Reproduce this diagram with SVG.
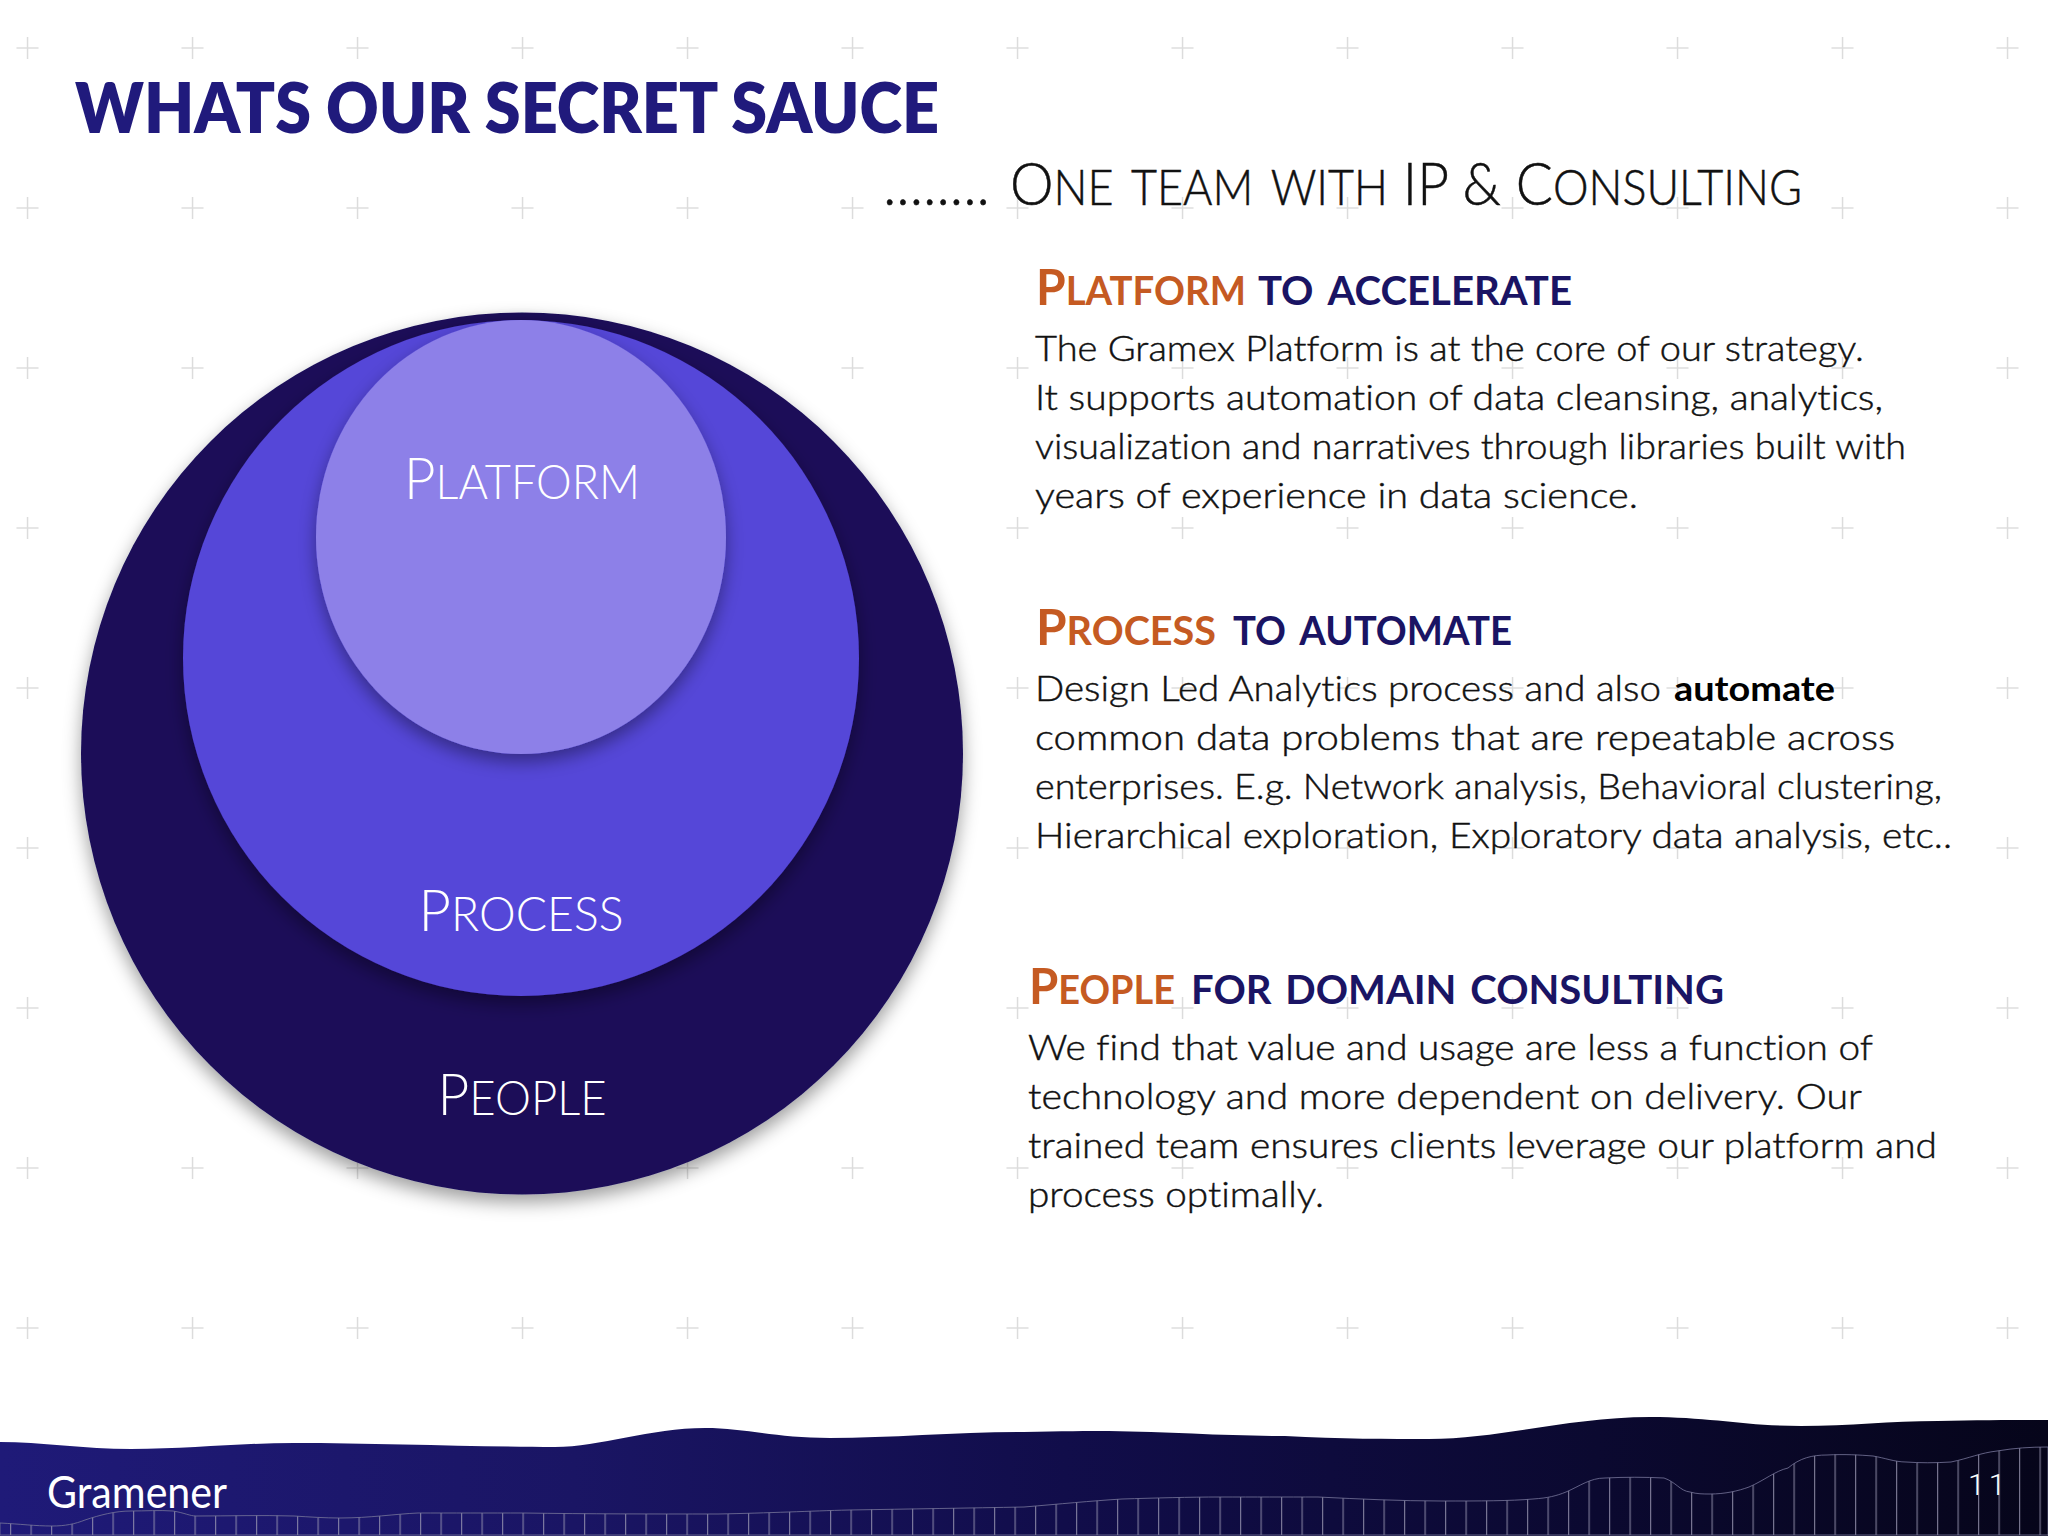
<svg xmlns="http://www.w3.org/2000/svg" width="2048" height="1536" viewBox="0 0 2048 1536">
<style>
text{font-family:"Lato","Liberation Sans",sans-serif;font-variant-ligatures:none}
.b{font-size:35px;fill:#111;font-weight:300;stroke:#111;stroke-width:.45px}
.h{font-size:50px;font-weight:700}
.l{font-size:57px;font-variant-caps:small-caps}
.o{fill:#c55a22}
.n{fill:#1a1464}
.c{font-size:57px;fill:#fff;font-weight:300;text-anchor:middle}
.m{font-size:67px;font-variant-caps:small-caps}
.t{font-size:60px;font-weight:300;fill:#111;stroke:#111;stroke-width:.5px}
.s{font-size:70px;font-variant-caps:small-caps}
</style>
<defs>
<pattern id="plus" x="-55" y="-32" width="165" height="160" patternUnits="userSpaceOnUse">
<rect x="71.5" y="79" width="22" height="2" fill="#e6e6e6"/>
<rect x="81.8" y="69" width="1.5" height="22" fill="#dcdcdc"/>
</pattern>
<pattern id="ticks" x="10" y="0" width="20.5" height="40" patternUnits="userSpaceOnUse">
<rect x="0" y="0" width="1.2" height="40" fill="#9a98b2" fill-opacity=".75"/>
</pattern>
<linearGradient id="foot" x1="0" y1="0" x2="1" y2="0">
<stop offset="0" stop-color="#1f1a78"/>
<stop offset=".28" stop-color="#1a1564"/>
<stop offset=".52" stop-color="#110d4a"/>
<stop offset=".78" stop-color="#0b0930"/>
<stop offset="1" stop-color="#06051a"/>
</linearGradient>
<filter id="sh" x="-10%" y="-10%" width="120%" height="120%">
<feDropShadow dx="0" dy="8" stdDeviation="9" flood-color="#000" flood-opacity=".38"/>
</filter>
</defs>
<rect width="2048" height="1536" fill="#fff"/>
<rect id="grid" x="0" y="0" width="2048" height="1408" fill="url(#plus)"/>
<g id="footer">
<path fill="url(#foot)" d="M0 1442C40 1442 85 1449 131 1449C190 1449 240 1443 294 1443C380 1443 480 1447 555 1447C600 1447 650 1428 705 1428C745 1428 775 1438 830 1438C890 1438 960 1432 1024 1432C1060 1431 1090 1431 1109 1431C1170 1432 1230 1436 1285 1436C1340 1439 1390 1439 1429 1439C1500 1439 1570 1417 1650 1417C1710 1417 1745 1426 1801 1426C1850 1426 1890 1421 1938 1421C1980 1420 2020 1420 2048 1420L2048 1536L0 1536Z"/>
<path fill="url(#ticks)" stroke="#77759a" stroke-opacity=".8" stroke-width="1" d="M0 1523C20 1524 35 1526 52 1526C65 1526 75 1524 85 1520C100 1515 115 1511 131 1511C145 1511 160 1510 173 1511C185 1513 190 1516 196 1516C230 1516 260 1515 294 1516C310 1517 325 1518 340 1518C370 1518 395 1514 418 1513C450 1513 490 1513 523 1513C590 1514 650 1514 718 1514C770 1513 810 1511 849 1510C910 1509 970 1508 1024 1507C1060 1504 1090 1501 1122 1499C1155 1498 1190 1497 1220 1497C1255 1497 1285 1497 1318 1497C1360 1499 1400 1501 1442 1501C1480 1501 1510 1501 1533 1499C1548 1498 1556 1496 1566 1492C1580 1486 1590 1478 1605 1478C1625 1477 1645 1477 1664 1478C1676 1482 1680 1491 1690 1492C1697 1494 1703 1494 1710 1494C1725 1494 1738 1491 1749 1487C1765 1480 1775 1471 1788 1468C1800 1458 1812 1455 1827 1455C1845 1454 1860 1455 1873 1456C1885 1458 1895 1462 1906 1462C1920 1463 1935 1463 1951 1462C1970 1458 1980 1453 1997 1451C2015 1448 2030 1447 2048 1447L2048 1535L0 1535Z"/>
<text x="47" y="1508" font-size="44" fill="#fff" font-weight="400" textLength="180" lengthAdjust="spacingAndGlyphs">Gramener</text>
<text x="1968" y="1495" font-size="30" fill="#fff" style="font-family:Roboto,sans-serif;font-weight:300;letter-spacing:4px">11</text>
</g>
<g id="title">
<text x="75" y="133" font-size="70" font-weight="800" fill="#201a7c" textLength="864" lengthAdjust="spacingAndGlyphs">WHATS OUR SECRET SAUCE</text>
<text class="t" x="883" y="205" textLength="107" lengthAdjust="spacingAndGlyphs">........</text>
<text class="t" x="1010" y="205" textLength="792" lengthAdjust="spacingAndGlyphs">O<tspan class="s">ne team with</tspan> IP &amp; C<tspan class="s">onsulting</tspan></text>
</g>
<g id="node-people"><circle cx="522" cy="753.5" r="441" fill="#1a1059" filter="url(#sh)"/><text class="c" x="522" y="1115" textLength="169" lengthAdjust="spacingAndGlyphs">P<tspan class="m">eople</tspan></text></g>
<g id="node-process"><circle cx="521" cy="658" r="338" fill="#5546d8" filter="url(#sh)"/><text class="c" x="521" y="931" textLength="205" lengthAdjust="spacingAndGlyphs">P<tspan class="m">rocess</tspan></text></g>
<g id="node-platform"><ellipse cx="521" cy="537" rx="205" ry="217" fill="#8d80e8" filter="url(#sh)"/><text class="c" x="522" y="499" textLength="236" lengthAdjust="spacingAndGlyphs">P<tspan class="m">latform</tspan></text></g>
<g id="section-platform">
<text class="h o" x="1036" y="305" textLength="210" lengthAdjust="spacingAndGlyphs">P<tspan class="l">latform</tspan></text>
<text class="h n l" x="1258" y="305" textLength="314" lengthAdjust="spacingAndGlyphs">to accelerate</text>
<text class="b" x="1035" y="361" textLength="829" lengthAdjust="spacingAndGlyphs">The Gramex Platform is at the core of our strategy.</text>
<text class="b" x="1035" y="410" textLength="848" lengthAdjust="spacingAndGlyphs">It supports automation of data cleansing, analytics,</text>
<text class="b" x="1035" y="459" textLength="871" lengthAdjust="spacingAndGlyphs">visualization and narratives through libraries built with</text>
<text class="b" x="1035" y="508" textLength="603" lengthAdjust="spacingAndGlyphs">years of experience in data science.</text>
</g>
<g id="section-process">
<text class="h o" x="1036" y="645" textLength="180" lengthAdjust="spacingAndGlyphs">P<tspan class="l">rocess</tspan></text>
<text class="h n l" x="1233" y="645" textLength="279" lengthAdjust="spacingAndGlyphs">to automate</text>
<text class="b" x="1035" y="701"><tspan textLength="626" lengthAdjust="spacingAndGlyphs">Design Led Analytics process and also</tspan><tspan x="1674" textLength="161" lengthAdjust="spacingAndGlyphs" style="font-weight:700;stroke:none;fill:#000">automate</tspan></text>
<text class="b" x="1035" y="750" textLength="860" lengthAdjust="spacingAndGlyphs">common data problems that are repeatable across</text>
<text class="b" x="1035" y="799" textLength="907" lengthAdjust="spacingAndGlyphs">enterprises. E.g. Network analysis, Behavioral clustering,</text>
<text class="b" x="1035" y="848" textLength="917" lengthAdjust="spacingAndGlyphs">Hierarchical exploration, Exploratory data analysis, etc..</text>
</g>
<g id="section-people">
<text class="h o" x="1029" y="1004" textLength="146" lengthAdjust="spacingAndGlyphs">P<tspan class="l">eople</tspan></text>
<text class="h n l" x="1191" y="1004" textLength="533" lengthAdjust="spacingAndGlyphs">for domain consulting</text>
<text class="b" x="1028" y="1060" textLength="845" lengthAdjust="spacingAndGlyphs">We find that value and usage are less a function of</text>
<text class="b" x="1028" y="1109" textLength="834" lengthAdjust="spacingAndGlyphs">technology and more dependent on delivery. Our</text>
<text class="b" x="1028" y="1158" textLength="909" lengthAdjust="spacingAndGlyphs">trained team ensures clients leverage our platform and</text>
<text class="b" x="1028" y="1207" textLength="296" lengthAdjust="spacingAndGlyphs">process optimally.</text>
</g>
</svg>
